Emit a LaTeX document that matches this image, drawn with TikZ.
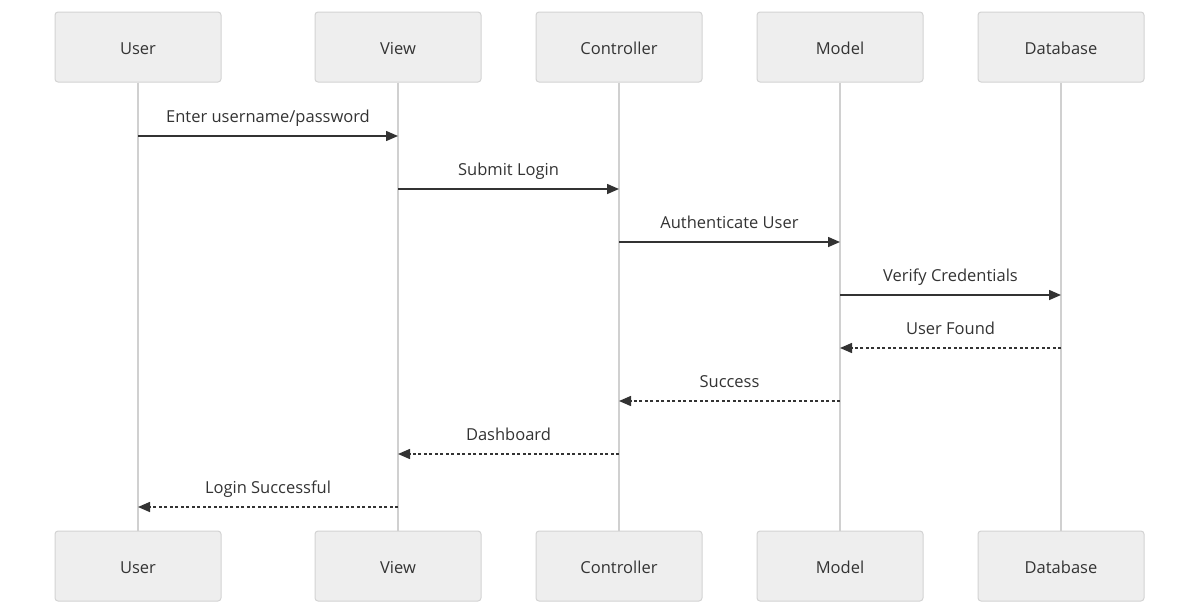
\documentclass[tikz,border=0pt]{standalone}
\usepackage{fontspec}
\setmainfont{Open Sans}
\usetikzlibrary{arrows.meta,calc}
\definecolor{boxfill}{HTML}{EEEEEE}
\definecolor{boxline}{HTML}{D3D3D3}
\definecolor{lifeline}{HTML}{D0D0D0}
\definecolor{msg}{HTML}{333333}
\begin{document}
\begin{tikzpicture}[x=1pt,y=-1pt,
  actor/.style={draw=boxline, fill=boxfill, rounded corners=3pt, minimum width=166pt, minimum height=70pt, inner sep=0pt, font=\fontsize{16.5}{19}\selectfont, text=msg, line width=1pt, text height=16pt, text depth=1.5pt},
  life/.style={draw=lifeline, line width=2pt},
  call/.style={draw=msg, line width=1.5pt, -{Triangle[length=12pt,width=10pt]}},
  reply/.style={call, dash pattern=on 3pt off 2.5pt},
  lbl/.style={font=\fontsize{16.5}{19}\selectfont, text=msg, inner sep=0pt, text height=12pt, text depth=3.5pt}]
\useasboundingbox (0,0) rectangle (1200,614);
\foreach \n/\t/\x in {u/User/138, v/View/398, c/Controller/619, m/Model/840, d/Database/1061}{
  \node[actor] (\n top) at (\x,47) {\t};
  \node[actor] (\n bot) at (\x,566) {\t};
  \draw[life] (\n top.south) -- (\n bot.north);
}
\foreach \a/\b/\y/\t/\s in {u/v/136/Enter username\slash password/call, v/c/189/Submit Login/call, c/m/242/Authenticate User/call, m/d/295/Verify Credentials/call, d/m/348/User Found/reply, m/c/401/Success/reply, c/v/454/Dashboard/reply, v/u/507/Login Successful/reply}{
  \coordinate (s\y) at (\a top.south |- 0,\y);
  \coordinate (e\y) at (\b top.south |- 0,\y);
  \draw[\s] (s\y) -- (e\y);
  \node[lbl] (l\y) at ($(s\y)!0.5!(e\y)+(0,-18)$) {\t};
}
\end{tikzpicture}
\end{document}
